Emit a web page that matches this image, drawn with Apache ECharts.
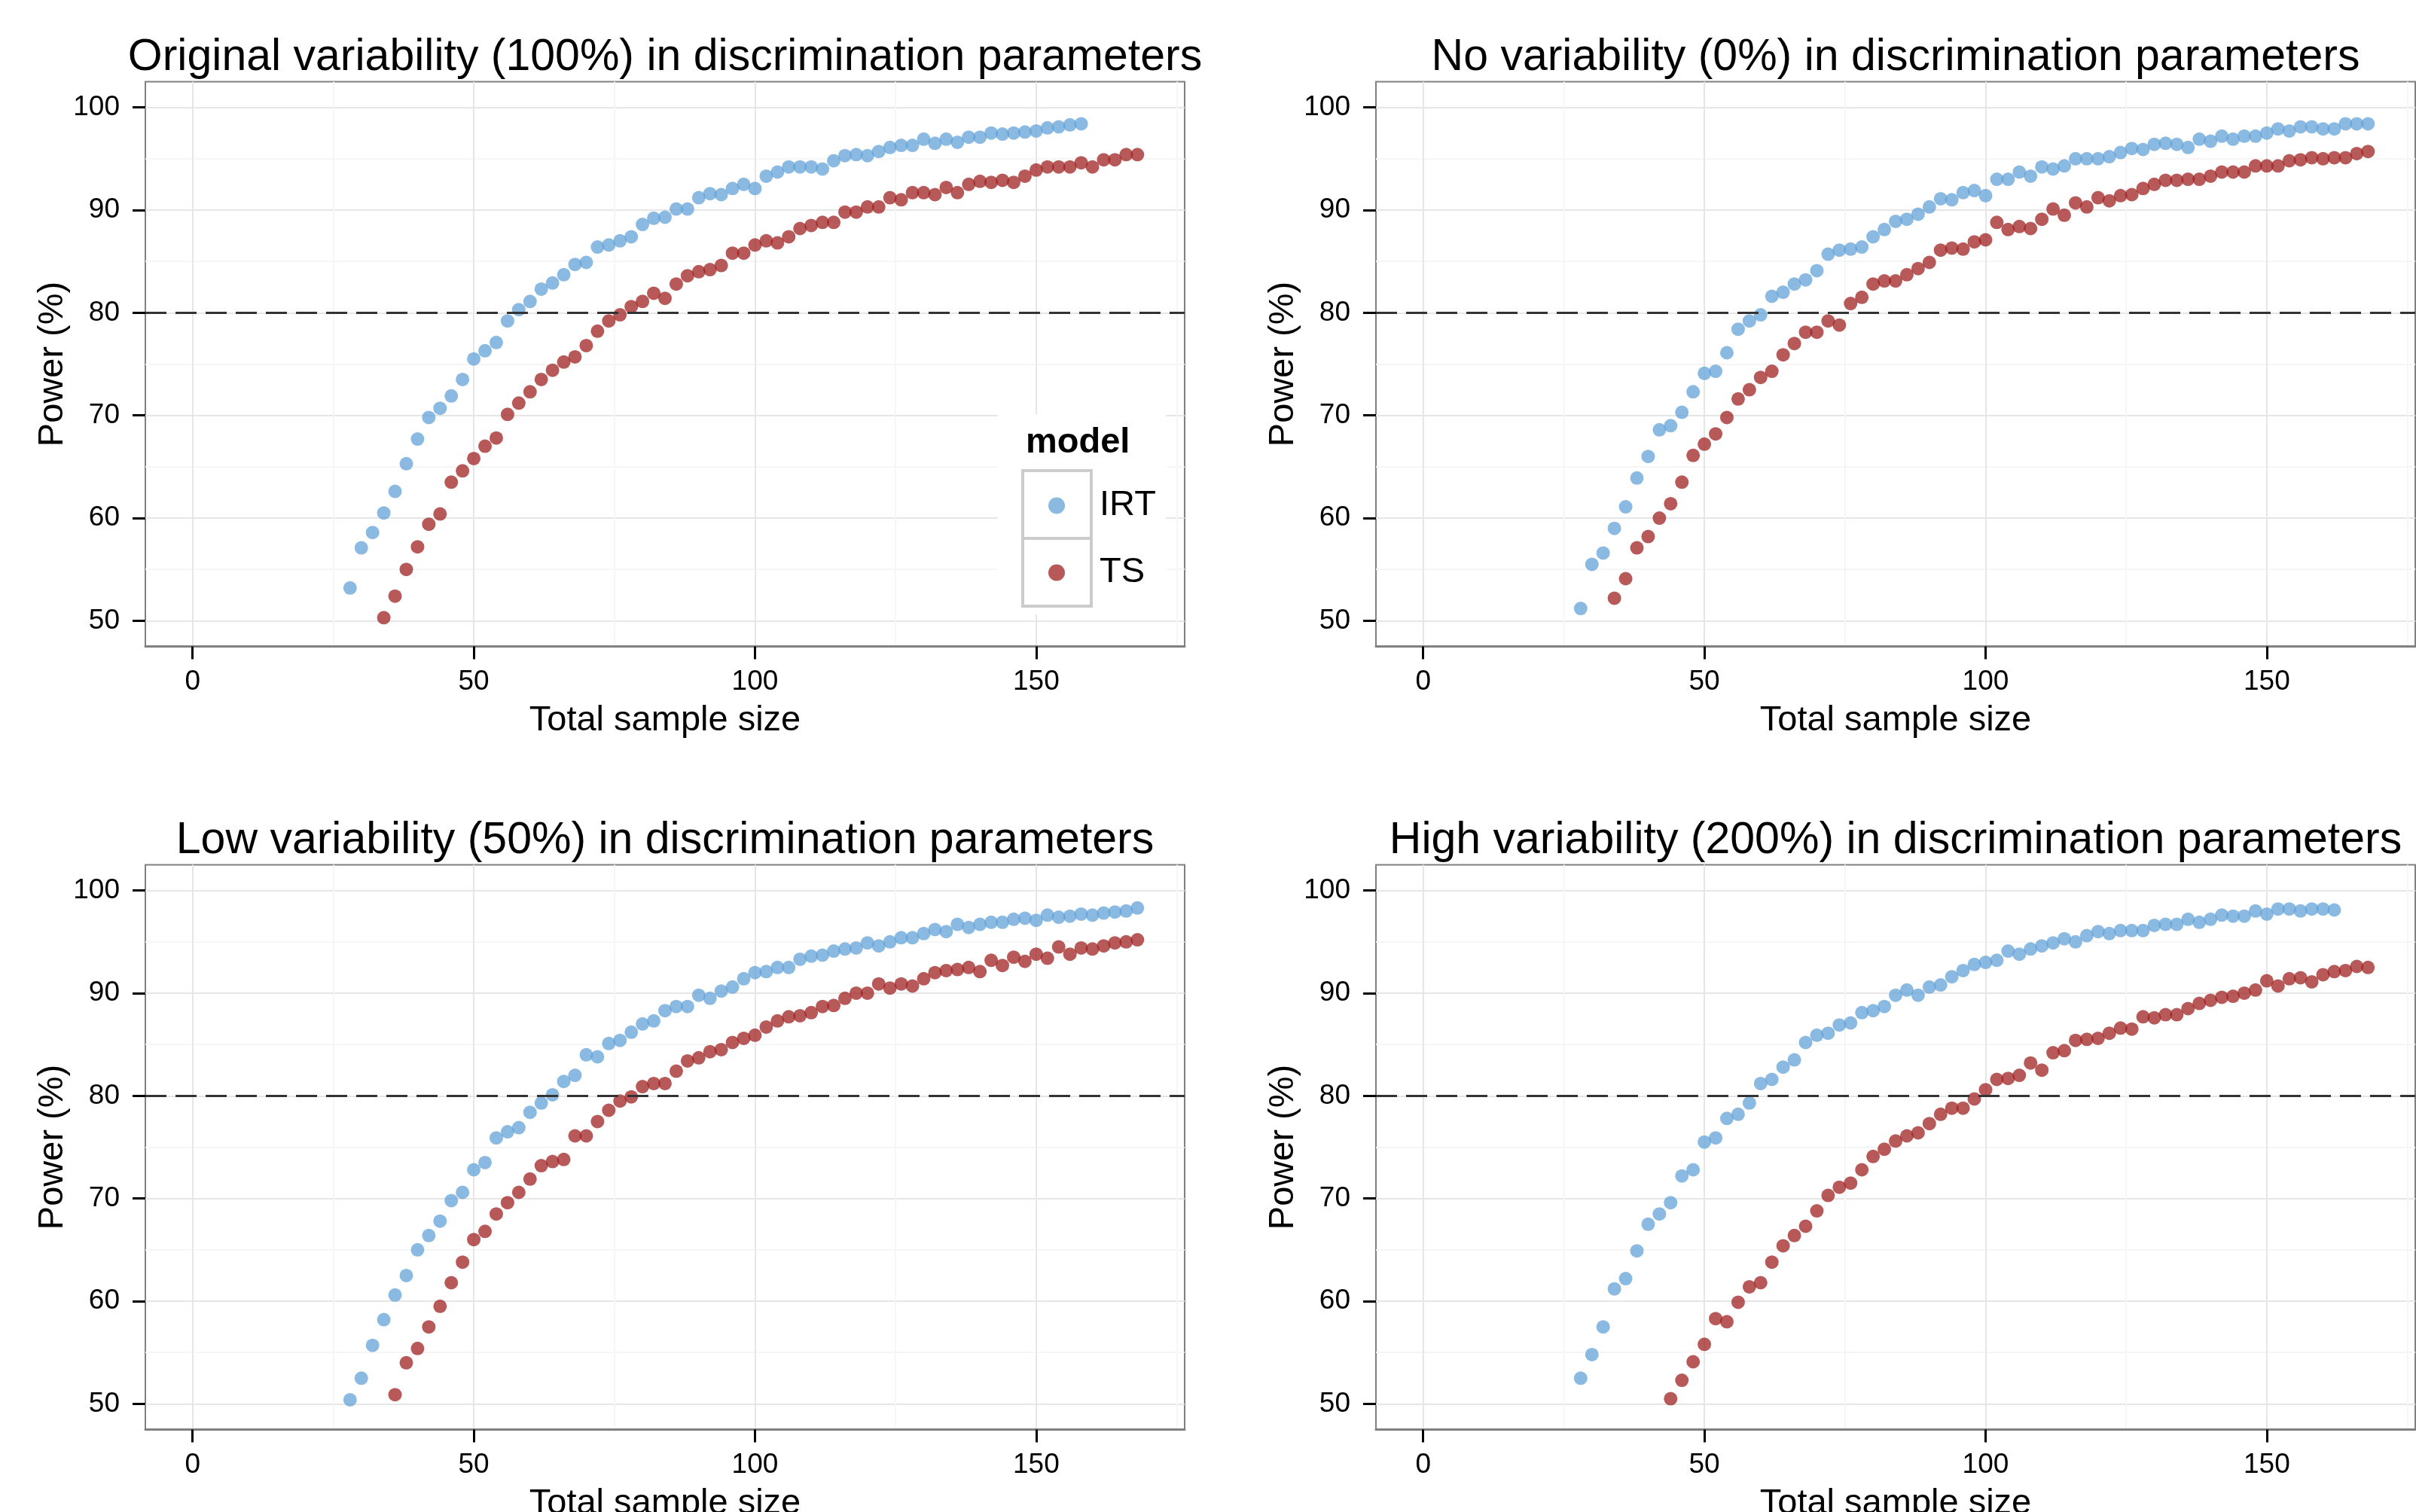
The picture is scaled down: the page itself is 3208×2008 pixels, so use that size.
<!DOCTYPE html>
<html>
<head>
<meta charset="utf-8">
<script src="https://cdn.jsdelivr.net/npm/echarts@6/dist/echarts.min.js"></script>
<style>html,body{margin:0;padding:0;background:#fff}#c{width:3208px;height:2008px}</style>
</head>
<body>
<div id="c"></div>
<script>
// ---- Data ----
const panelTitles = [
  'Original variability (100%) in discrimination parameters',
  'No variability (0%) in discrimination parameters',
  'Low variability (50%) in discrimination parameters',
  'High variability (200%) in discrimination parameters'
];
const seriesNames = ['IRT', 'TS'];
const xTickValues = [0, 50, 100, 150];
const yTickValues = [50, 60, 70, 80, 90, 100];
const targetPower = 80;

// sample sizes
const n28to158 = [28,30,32,34,36,38,40,42,44,46,48,50,52,54,56,58,60,62,64,66,68,70,72,74,76,78,80,82,84,86,88,90,92,94,96,98,100,102,104,106,108,110,112,114,116,118,120,122,124,126,128,130,132,134,136,138,140,142,144,146,148,150,152,154,156,158];
const n28to168 = [28,30,32,34,36,38,40,42,44,46,48,50,52,54,56,58,60,62,64,66,68,70,72,74,76,78,80,82,84,86,88,90,92,94,96,98,100,102,104,106,108,110,112,114,116,118,120,122,124,126,128,130,132,134,136,138,140,142,144,146,148,150,152,154,156,158,160,162,164,166,168];
const n28to162 = [28,30,32,34,36,38,40,42,44,46,48,50,52,54,56,58,60,62,64,66,68,70,72,74,76,78,80,82,84,86,88,90,92,94,96,98,100,102,104,106,108,110,112,114,116,118,120,122,124,126,128,130,132,134,136,138,140,142,144,146,148,150,152,154,156,158,160,162];
const n34to168 = [34,36,38,40,42,44,46,48,50,52,54,56,58,60,62,64,66,68,70,72,74,76,78,80,82,84,86,88,90,92,94,96,98,100,102,104,106,108,110,112,114,116,118,120,122,124,126,128,130,132,134,136,138,140,142,144,146,148,150,152,154,156,158,160,162,164,166,168];
const n36to168 = [36,38,40,42,44,46,48,50,52,54,56,58,60,62,64,66,68,70,72,74,76,78,80,82,84,86,88,90,92,94,96,98,100,102,104,106,108,110,112,114,116,118,120,122,124,126,128,130,132,134,136,138,140,142,144,146,148,150,152,154,156,158,160,162,164,166,168];
const n44to168 = [44,46,48,50,52,54,56,58,60,62,64,66,68,70,72,74,76,78,80,82,84,86,88,90,92,94,96,98,100,102,104,106,108,110,112,114,116,118,120,122,124,126,128,130,132,134,136,138,140,142,144,146,148,150,152,154,156,158,160,162,164,166,168];

// Panel 1: original variability
const origIRT = [53.2,57.1,58.6,60.5,62.6,65.3,67.7,69.8,70.7,71.9,73.5,75.5,76.3,77.1,79.2,80.3,81.1,82.3,82.9,83.7,84.7,84.9,86.4,86.6,87.0,87.4,88.6,89.2,89.3,90.1,90.1,91.2,91.6,91.5,92.1,92.5,92.1,93.3,93.7,94.2,94.2,94.2,94.0,94.8,95.3,95.4,95.3,95.7,96.1,96.3,96.3,96.9,96.5,96.9,96.6,97.1,97.1,97.5,97.4,97.5,97.6,97.7,98.0,98.1,98.3,98.4];
const origTS = [50.3,52.4,55.0,57.2,59.4,60.4,63.5,64.6,65.8,67.0,67.8,70.1,71.2,72.3,73.5,74.4,75.2,75.7,76.8,78.2,79.2,79.8,80.6,81.1,81.9,81.4,82.8,83.6,84.0,84.2,84.6,85.8,85.8,86.6,87.0,86.8,87.4,88.2,88.5,88.8,88.8,89.8,89.8,90.3,90.3,91.2,91.0,91.7,91.7,91.5,92.2,91.7,92.5,92.8,92.7,92.9,92.7,93.3,93.9,94.2,94.2,94.2,94.6,94.2,94.9,94.9,95.4,95.4];
// Panel 2: no variability
const noneIRT = [51.2,55.5,56.6,59.0,61.1,63.9,66.0,68.6,69.0,70.3,72.3,74.1,74.3,76.1,78.4,79.2,79.8,81.6,82.0,82.8,83.2,84.1,85.7,86.1,86.2,86.4,87.4,88.1,88.9,89.1,89.6,90.3,91.1,91.0,91.7,91.9,91.4,93.0,93.0,93.7,93.3,94.2,94.0,94.3,95.0,95.0,95.0,95.2,95.6,96.0,95.9,96.4,96.5,96.4,96.1,96.9,96.7,97.2,96.9,97.2,97.2,97.5,97.9,97.7,98.1,98.1,97.9,97.9,98.4,98.4,98.4];
const noneTS = [52.2,54.1,57.1,58.2,60.0,61.4,63.5,66.1,67.2,68.2,69.8,71.6,72.5,73.7,74.3,75.9,77.0,78.1,78.1,79.2,78.8,80.9,81.5,82.8,83.1,83.1,83.7,84.3,84.9,86.1,86.3,86.2,86.9,87.1,88.8,88.1,88.4,88.2,89.1,90.1,89.5,90.7,90.3,91.2,90.9,91.4,91.5,92.1,92.5,92.9,92.9,93.0,93.0,93.3,93.7,93.7,93.7,94.3,94.3,94.3,94.8,94.9,95.1,95.0,95.1,95.1,95.5,95.7];
// Panel 3: low variability
const lowIRT = [50.4,52.5,55.7,58.2,60.6,62.5,65.0,66.4,67.8,69.8,70.6,72.8,73.5,75.9,76.5,76.9,78.4,79.3,80.1,81.4,82.0,84.0,83.8,85.1,85.4,86.2,87.0,87.3,88.3,88.7,88.7,89.8,89.5,90.2,90.6,91.4,92.0,92.1,92.5,92.5,93.3,93.6,93.7,94.1,94.3,94.4,94.9,94.6,95.0,95.4,95.4,95.8,96.2,96.0,96.7,96.4,96.7,96.9,96.9,97.2,97.3,97.1,97.6,97.4,97.5,97.7,97.6,97.8,97.9,98.0,98.3];
const lowTS = [50.9,54.0,55.4,57.5,59.5,61.8,63.8,66.0,66.8,68.5,69.6,70.6,71.9,73.2,73.6,73.8,76.1,76.1,77.5,78.6,79.5,79.9,80.9,81.2,81.2,82.4,83.4,83.7,84.3,84.5,85.2,85.6,85.9,86.7,87.3,87.7,87.8,88.1,88.7,88.8,89.5,90.0,90.0,90.9,90.5,90.9,90.7,91.4,92.0,92.2,92.3,92.5,92.1,93.2,92.7,93.5,93.1,93.8,93.4,94.5,93.8,94.4,94.3,94.6,94.9,95.0,95.2];
// Panel 4: high variability
const highIRT = [52.5,54.8,57.5,61.2,62.2,64.9,67.5,68.5,69.6,72.2,72.8,75.5,75.9,77.8,78.2,79.3,81.2,81.6,82.8,83.5,85.2,85.9,86.1,86.9,87.1,88.1,88.3,88.7,89.8,90.3,89.8,90.6,90.8,91.6,92.2,92.8,93.0,93.2,94.1,93.8,94.3,94.6,94.9,95.3,95.0,95.6,96.0,95.8,96.1,96.1,96.1,96.6,96.7,96.7,97.2,96.9,97.2,97.6,97.5,97.5,98.0,97.7,98.2,98.2,98.0,98.2,98.2,98.1];
const highTS = [50.5,52.3,54.1,55.8,58.3,58.0,59.9,61.4,61.8,63.8,65.4,66.4,67.3,68.8,70.3,71.1,71.5,72.8,74.1,74.8,75.6,76.1,76.4,77.3,78.2,78.8,78.8,79.7,80.6,81.6,81.7,82.0,83.2,82.5,84.2,84.4,85.4,85.5,85.6,86.1,86.6,86.5,87.7,87.6,87.9,87.9,88.5,89.0,89.3,89.6,89.7,90.0,90.3,91.2,90.7,91.4,91.5,91.1,91.8,92.1,92.2,92.6,92.5];

const panels = [
  { irtN: n28to158, irt: origIRT, tsN: n34to168, ts: origTS },
  { irtN: n28to168, irt: noneIRT, tsN: n34to168, ts: noneTS },
  { irtN: n28to168, irt: lowIRT,  tsN: n36to168, ts: lowTS },
  { irtN: n28to162, irt: highIRT, tsN: n44to168, ts: highTS }
];

// ---- Layout / style ----
const FONT = '"Liberation Sans", Arial, Helvetica, sans-serif';
const gridBoxes = [
  { left: 193,  top: 108.5,  width: 1380, height: 750 },
  { left: 1827, top: 108.5,  width: 1380, height: 750 },
  { left: 193,  top: 1148.5, width: 1380, height: 750 },
  { left: 1827, top: 1148.5, width: 1380, height: 750 }
];
const titleTops = [47, 47, 1087, 1087];
const IRT_COLOR = 'rgba(96,160,216,0.92)';
const TS_COLOR = 'rgba(160,32,32,0.93)';

const zip = (xs, ys) => xs.map((x, i) => [x, ys[i]]);

const grid = gridBoxes.map(g => Object.assign({
  show: true, backgroundColor: '#fff', borderColor: '#808080', borderWidth: 2,
  containLabel: false, outerBoundsMode: 'none'
}, g));

const xAxis = gridBoxes.map((g, i) => ({
  gridIndex: i, type: 'value', min: -8.4, max: 176.4,
  splitNumber: 4, minInterval: 50, maxInterval: 50,
  name: 'Total sample size', nameLocation: 'middle', nameGap: 75,
  nameTextStyle: { fontSize: 47, color: '#000', fontFamily: FONT },
  axisLine: { show: true, onZero: false, lineStyle: { color: '#808080', width: 3 } },
  axisTick: { show: true, length: 17, customValues: xTickValues, lineStyle: { color: '#000', width: 3 } },
  axisLabel: { fontSize: 37, color: '#000', fontFamily: FONT, margin: 29, customValues: xTickValues,
    formatter: v => (xTickValues.indexOf(v) >= 0 ? String(v) : '') },
  splitLine: { show: true, lineStyle: { color: '#e6e6e6', width: 2 } },
  minorTick: { show: false, splitNumber: 2 },
  minorSplitLine: { show: true, lineStyle: { color: '#f6f6f6', width: 2 } }
}));

const yAxis = gridBoxes.map((g, i) => ({
  gridIndex: i, type: 'value', min: 47.5, max: 102.5,
  splitNumber: 5, minInterval: 10, maxInterval: 10,
  name: 'Power (%)', nameLocation: 'middle', nameGap: 98,
  nameTextStyle: { fontSize: 47, color: '#000', fontFamily: FONT },
  axisLine: { show: false, onZero: false },
  axisTick: { show: true, length: 17, customValues: yTickValues, lineStyle: { color: '#000', width: 3 } },
  axisLabel: { fontSize: 37, color: '#000', fontFamily: FONT, margin: 34, customValues: yTickValues,
    formatter: v => (yTickValues.indexOf(v) >= 0 ? String(v) : '') },
  splitLine: { show: true, lineStyle: { color: '#e6e6e6', width: 2 } },
  minorTick: { show: false, splitNumber: 2 },
  minorSplitLine: { show: true, lineStyle: { color: '#f6f6f6', width: 2 } }
}));

const series = [];
panels.forEach((p, i) => {
  series.push({
    name: 'IRT', type: 'scatter', xAxisIndex: i, yAxisIndex: i,
    data: zip(p.irtN, p.irt), symbol: 'circle', symbolSize: 18,
    itemStyle: { color: IRT_COLOR }, z: 3,
    markLine: {
      silent: true, symbol: 'none', label: { show: false },
      lineStyle: { type: [28, 12], color: '#333', width: 3 },
      emphasis: { disabled: true },
      data: [{ yAxis: targetPower }]
    }
  });
  series.push({
    name: 'TS', type: 'scatter', xAxisIndex: i, yAxisIndex: i,
    data: zip(p.tsN, p.ts), symbol: 'circle', symbolSize: 18,
    itemStyle: { color: TS_COLOR }, z: 3
  });
});

const title = panelTitles.map((t, i) => ({
  text: t, left: gridBoxes[i].left + gridBoxes[i].width / 2, top: titleTops[i],
  textAlign: 'center', padding: 0,
  textStyle: { fontSize: 59, fontWeight: 'normal', color: '#000', fontFamily: FONT }
}));
title.push({
  text: 'model', left: 1362, top: 565, padding: 0,
  textStyle: { fontSize: 47, fontWeight: 'bold', color: '#000', fontFamily: FONT }
});

const option = {
  animation: false,
  backgroundColor: '#fff',
  title: title,
  grid: grid,
  xAxis: xAxis,
  yAxis: yAxis,
  legend: {
    data: seriesNames, orient: 'vertical', left: 1392, top: 648, padding: 0,
    icon: 'circle', itemWidth: 22, itemHeight: 22, itemGap: 42, selectedMode: false,
    textStyle: { fontSize: 47, lineHeight: 47, color: '#000', fontFamily: FONT, padding: [0, 0, 0, 41] },
    z: 6
  },
  graphic: [
    { type: 'rect', z: 4, shape: { x: 1325, y: 550, width: 223, height: 266 }, style: { fill: '#fff' } },
    { type: 'rect', z: 5, shape: { x: 1358, y: 625, width: 91, height: 90 }, style: { fill: '#fff', stroke: '#cccccc', lineWidth: 4 } },
    { type: 'rect', z: 5, shape: { x: 1358, y: 715, width: 91, height: 90 }, style: { fill: '#fff', stroke: '#cccccc', lineWidth: 4 } }
  ],
  series: series
};

const chart = echarts.init(document.getElementById('c'), null, { renderer: 'canvas' });
chart.setOption(option);
</script>
</body>
</html>
